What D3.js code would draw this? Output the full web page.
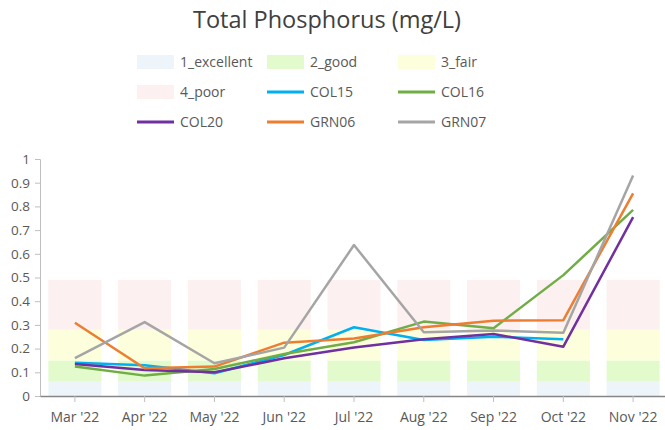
<!DOCTYPE html>
<html>
<head>
<meta charset="utf-8">
<script src="https://cdn.jsdelivr.net/npm/d3@7"></script>
<style>
  body { margin: 0; background: #fff; }
  text { font-family: "Open Sans", sans-serif; }
</style>
</head>
<body>
<div id="chart"></div>
<script>
var months = ["Mar '22", "Apr '22", "May '22", "Jun '22", "Jul '22", "Aug '22", "Sep '22", "Oct '22", "Nov '22"]

// class bands, stacked (each value is the thickness of the band)
var bandNames = ["1_excellent", "2_good", "3_fair", "4_poor"]
var bandSizes = [0.06, 0.09, 0.13, 0.21]
var bandColors = ["#edf5fa", "#e3fbcc", "#fdfedb", "#fcf0f0"]

var siteNames = ["COL15", "COL16", "COL20", "GRN06", "GRN07"]
var siteColors = ["#00b0f0", "#70ad47", "#7030a0", "#ed7d31", "#a5a5a5"]
var col15 = [0.14, 0.13, 0.096, 0.173, 0.29, 0.236, 0.25, 0.239, null]
var col16 = [0.124, 0.086, 0.114, 0.177, 0.227, 0.314, 0.286, 0.51, 0.785]
var col20 = [0.135, 0.11, 0.10, 0.159, 0.205, 0.239, 0.262, 0.208, 0.755]
var grn06 = [0.309, 0.117, 0.124, 0.225, 0.243, 0.29, 0.318, 0.32, 0.855]
var grn07 = [0.16, 0.312, 0.138, 0.204, 0.637, 0.269, 0.276, 0.267, 0.93]
var siteValues = [col15, col16, col20, grn06, grn07]

var yTicks = [0, 0.1, 0.2, 0.3, 0.4, 0.5, 0.6, 0.7, 0.8, 0.9, 1]

var width = 665
var height = 430

var svg = d3.select("#chart").append("svg")
  .attr("width", width).attr("height", height)

var x = d3.scaleBand().domain(months).range([40, 668]).paddingInner(0.24).paddingOuter(0.12)
var y = d3.scaleLinear().domain([0, 1]).range([396, 159])

// title
svg.append("text")
  .attr("x", 327).attr("y", 28)
  .attr("text-anchor", "middle")
  .attr("font-size", 23.5)
  .style("fill", "#404040")
  .text("Total Phosphorus (mg/L)")

// stacked class bands
var stackRows = months.map(function(m) {
  var r = { month: m }
  bandNames.forEach(function(b, i) { r[b] = bandSizes[i] })
  return r
})
var stacked = d3.stack().keys(bandNames)(stackRows)

svg.append("g").selectAll("g")
  .data(stacked)
  .enter().append("g")
  .attr("fill", function(d, i) { return bandColors[i] })
  .selectAll("rect")
  .data(function(d) { return d })
  .enter().append("rect")
  .attr("x", function(d) { return x(d.data.month) })
  .attr("width", x.bandwidth())
  .attr("y", function(d) { return y(d[1]) })
  .attr("height", function(d) { return y(d[0]) - y(d[1]) })

// y axis
var yAxis = svg.append("g")
  .attr("transform", "translate(40,0)")
  .call(d3.axisLeft(y).tickValues(yTicks).tickSize(5).tickPadding(5).tickFormat(d3.format("")))
yAxis.select(".domain").attr("stroke", "#bfbfbf")
yAxis.selectAll(".tick line").attr("stroke", "#bfbfbf")
yAxis.selectAll("text").attr("font-size", 13.5).style("fill", "#595959").style("font-family", "Open Sans")

// x axis
var xAxis = svg.append("g")
  .attr("transform", "translate(0,396)")
  .call(d3.axisBottom(x).tickSize(6).tickPadding(10).tickSizeOuter(0))
xAxis.select(".domain").attr("stroke", "#868686").attr("stroke-width", 1.5)
xAxis.selectAll(".tick line").attr("stroke", "#bfbfbf")
xAxis.selectAll("text").attr("font-size", 14).style("fill", "#595959").style("font-family", "Open Sans")

// site lines
var line = d3.line()
  .defined(function(d) { return d != null })
  .x(function(d, i) { return x(months[i]) + x.bandwidth() / 2 })
  .y(function(d) { return y(d) })

svg.append("g").selectAll("path")
  .data(siteValues)
  .enter().append("path")
  .attr("fill", "none")
  .attr("stroke", function(d, i) { return siteColors[i] })
  .attr("stroke-width", 2.5)
  .attr("stroke-linejoin", "round")
  .attr("d", line)

// legend
var legendItems = bandNames.map(function(b, i) { return { label: b, color: bandColors[i], kind: "box" } })
  .concat(siteNames.map(function(s, i) { return { label: s, color: siteColors[i], kind: "line" } }))
var colX = [137, 267, 398]
var rowY = [62, 92, 122]

var legend = svg.append("g").selectAll("g")
  .data(legendItems)
  .enter().append("g")
  .attr("transform", function(d, i) { return "translate(" + colX[i % 3] + "," + rowY[Math.floor(i / 3)] + ")" })

legend.filter(function(d) { return d.kind == "box" }).append("rect")
  .attr("x", 0).attr("y", -7).attr("width", 37).attr("height", 14)
  .attr("fill", function(d) { return d.color })
legend.filter(function(d) { return d.kind == "line" }).append("line")
  .attr("x1", 0).attr("x2", 37).attr("y1", 0).attr("y2", 0)
  .attr("stroke", function(d) { return d.color })
  .attr("stroke-width", 3)
legend.append("text")
  .attr("x", 43).attr("y", 5)
  .attr("font-size", 14)
  .style("fill", "#595959")
  .text(function(d) { return d.label })
</script>
</body>
</html>
